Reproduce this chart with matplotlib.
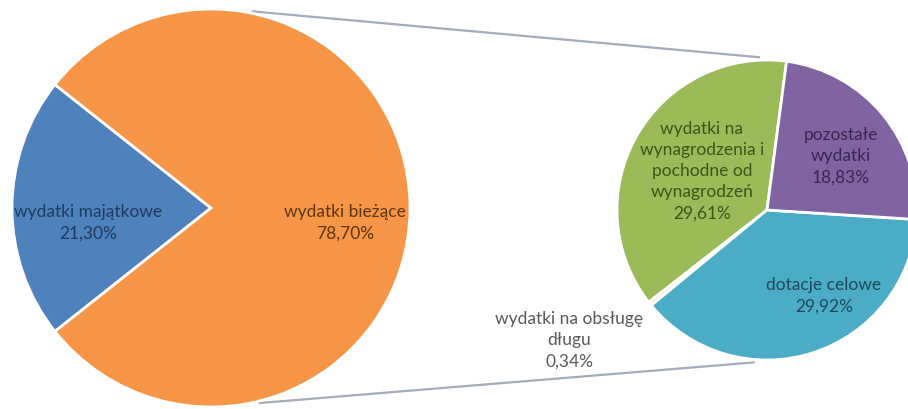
import numpy as np
import matplotlib
matplotlib.use('Agg')
import matplotlib.pyplot as plt
plt.rcParams['font.family'] = ['Lato', 'DejaVu Sans']

# main pie
main_labels = ['wydatki majątkowe', 'wydatki bieżące']
main_values = [21.30, 78.70]
main_colors = ['#4f81bd', '#f79646']
main_text_colors = ['#1f3a5f', '#5e3510']

# breakdown of "wydatki bieżące"
sub_labels = ['wydatki na\nwynagrodzenia i\npochodne od\nwynagrodzeń',
              'wydatki na obsługę\ndługu',
              'dotacje celowe',
              'pozostałe\nwydatki']
sub_values = [29.61, 0.34, 29.92, 18.83]
sub_colors = ['#9bbb59', '#e9edc8', '#4bacc6', '#8064a2']
sub_text_colors = ['#3d5419', '#595959', '#1b4b5a', '#372650']

W, H = 908, 410
fig = plt.figure(figsize=(W / 100, H / 100), dpi=100)
ax = fig.add_axes([0, 0, 1, 1])

c1, r1 = (211, 201), 199
c2, r2 = (767, 199), 150

# main pie: blue wedge centred on the left
start1 = 180 - main_values[0] / 100 * 360 / 2
ax.pie(main_values, colors=main_colors, center=c1, radius=r1,
       startangle=start1, counterclock=True, frame=True,
       wedgeprops=dict(edgecolor='white', linewidth=2))

# second pie
ax.pie(sub_values, colors=sub_colors, center=c2, radius=r2,
       startangle=82.5, counterclock=True, frame=True,
       wedgeprops=dict(edgecolor='white', linewidth=2))
ax.set_xlim(0, W)
ax.set_ylim(0, H)
ax.set_aspect('equal')
ax.axis('off')

# connector lines
def pt(c, r, a):
    return c[0] + r * np.cos(np.radians(a)), c[1] + r * np.sin(np.radians(a))

for a1, a2 in [(78, 93), (-76, -95)]:
    p1 = pt(c1, r1 + 2, a1)
    p2 = pt(c2, r2 + 3, a2)
    ax.plot([p1[0], p2[0]], [p1[1], p2[1]], color='#a3abb8', lw=1.6,
            zorder=0)

fs = 12.5
ls = 1.4
main_pos = [(88, 187), (345, 187)]
for lbl, v, col, (x, y) in zip(main_labels, main_values, main_text_colors, main_pos):
    ax.text(x, y, f'{lbl}\n{v:.2f}%'.replace('.', ','), ha='center', va='center',
            color=col, fontsize=fs, linespacing=ls)

sub_pos = [(702, 239), (569, 70), (824, 114), (841, 254)]
for lbl, v, col, (x, y) in zip(sub_labels, sub_values, sub_text_colors, sub_pos):
    ax.text(x, y, f'{lbl}\n{v:.2f}%'.replace('.', ','), ha='center', va='center',
            color=col, fontsize=fs, linespacing=ls)

fig.savefig('out.png', dpi=100)
